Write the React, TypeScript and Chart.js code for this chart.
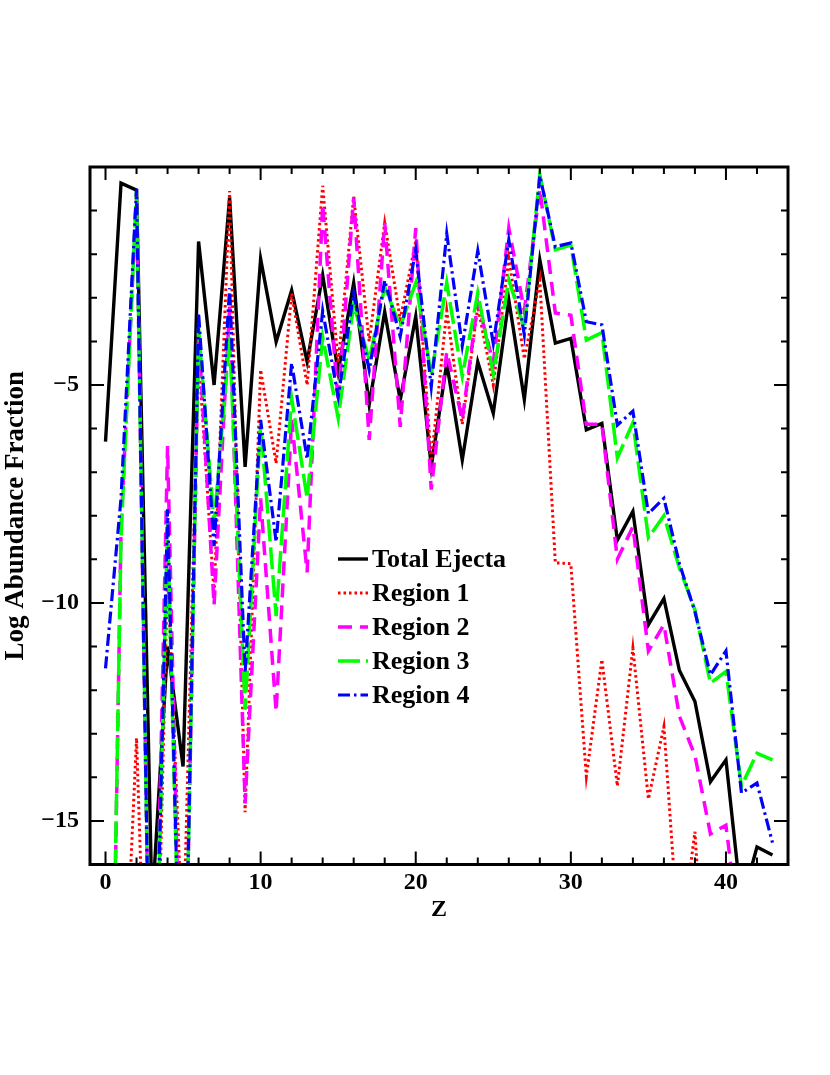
import React, { useEffect, useRef } from 'react';
import { Chart, registerables } from 'chart.js';

Chart.register(...registerables);

// ---------- data ----------
const Z = [0, 1, 2, 3, 4, 5, 6, 7, 8, 9, 10, 11, 12, 13, 14, 15, 16, 17, 18, 19, 20, 21, 22, 23, 24, 25, 26, 27, 28, 29, 30, 31, 32, 33, 34, 35, 36, 37, 38, 39, 40, 41, 42, 43];

const totalEjecta = [-6.3, -0.37, -0.53, -17, -11.0, -13.75, -1.71, -5.0, -0.7, -6.88, -2.11, -4.01, -2.83, -4.47, -2.48, -4.7, -2.66, -5.45, -3.32, -5.35, -3.43, -6.87, -4.5, -6.72, -4.47, -5.65, -3.05, -5.33, -2.13, -4.04, -3.93, -6.03, -5.88, -8.56, -7.9, -10.5, -9.9, -11.55, -12.26, -14.1, -13.6, -16.9, -15.6, -15.78];

const region1 = [-25, -21, -13.1, -24, -9.3, -18, -4.3, -9.8, -0.55, -14.8, -4.65, -6.8, -2.9, -5.0, -0.43, -4.5, -0.68, -4.0, -1.28, -3.5, -1.7, -6.75, -3.3, -5.9, -3.2, -5.0, -2.1, -4.4, -2.6, -9.08, -9.1, -13.98, -11.3, -14.2, -11.04, -14.5, -12.84, -18, -15.25, -21, -24, -26, -28, -30];

const region2 = [-30, -8.3, -0.6, -23, -6.4, -22, -3.8, -10.05, -3.2, -14.6, -7.6, -12.5, -5.8, -9.3, -0.85, -5.4, -0.7, -6.26, -1.28, -5.96, -1.4, -7.4, -4.24, -5.8, -3.1, -4.5, -1.4, -3.3, -0.5, -3.35, -3.4, -5.9, -5.9, -9.0, -8.25, -11.1, -10.5, -12.6, -13.5, -15.3, -15.1, -18, -19, -20];

const region3 = [-29, -8.5, -0.55, -23, -8.2, -22, -3.7, -8.2, -3.9, -12.45, -5.9, -10.3, -5.3, -7.6, -3.9, -5.76, -3.15, -4.43, -2.75, -3.66, -2.66, -4.77, -2.66, -4.8, -2.89, -4.75, -2.59, -3.7, -0.18, -1.9, -1.79, -3.97, -3.8, -6.67, -5.87, -8.5, -8.0, -9.2, -10.16, -11.84, -11.57, -14.2, -13.45, -13.6];

const region4 = [-11.5, -7.6, -0.5, -23, -7.85, -22, -3.35, -8.7, -2.78, -11.6, -5.8, -8.6, -4.5, -6.7, -3.3, -5.27, -2.9, -4.66, -2.6, -3.89, -1.9, -5.04, -1.53, -4.1, -1.92, -4.05, -1.67, -3.85, -0.2, -1.83, -1.74, -3.55, -3.62, -5.92, -5.6, -7.95, -7.6, -9.1, -10.2, -11.65, -11.1, -14.36, -14.13, -15.5];

const seriesLabels = ['Total Ejecta', 'Region 1', 'Region 2', 'Region 3', 'Region 4'];

const xTickValues = [0, 10, 20, 30, 40];
const xTickLabels = ['0', '10', '20', '30', '40'];
const xMinorTicks = [0, 2, 4, 6, 8, 10, 12, 14, 16, 18, 20, 22, 24, 26, 28, 30, 32, 34, 36, 38, 40, 42];
const yTickValues = [-15, -10, -5];
const yTickLabels = ['\u221215', '\u221210', '\u22125'];
const yMinorTicks = [-15, -14, -13, -12, -11, -10, -9, -8, -7, -6, -5, -4, -3, -2, -1];

const FONT = '"Liberation Serif", "Times New Roman", serif';

const framePlugin = {
  id: 'framePlugin',
  afterDraw(chart: any) {
    const { ctx, chartArea } = chart;
    const { left, right, top, bottom } = chartArea;
    const xs = chart.scales.x;
    const ys = chart.scales.y;
    ctx.save();
    ctx.strokeStyle = '#000';
    ctx.lineWidth = 2;
    ctx.lineCap = 'butt';
    ctx.beginPath();
    xMinorTicks.forEach((v) => {
      const px = xs.getPixelForValue(v);
      const len = xTickValues.includes(v) ? 13 : 7;
      ctx.moveTo(px, bottom);
      ctx.lineTo(px, bottom - len);
      ctx.moveTo(px, top);
      ctx.lineTo(px, top + len);
    });
    yMinorTicks.forEach((v) => {
      const py = ys.getPixelForValue(v);
      const len = yTickValues.includes(v) ? 14 : 7;
      ctx.moveTo(left, py);
      ctx.lineTo(left + len, py);
      ctx.moveTo(right, py);
      ctx.lineTo(right - len, py);
    });
    ctx.stroke();
    ctx.lineWidth = 3;
    ctx.strokeRect(left, top, right - left, bottom - top);

    // legend inside the plot
    const lx = left + 248;
    const ly = top + 392;
    const rowH = 34;
    ctx.font = 'bold 26px ' + FONT;
    ctx.textAlign = 'left';
    ctx.textBaseline = 'alphabetic';
    chart.data.datasets.forEach((ds: any, i: number) => {
      const yy = ly + i * rowH;
      ctx.save();
      ctx.strokeStyle = ds.borderColor;
      ctx.lineWidth = ds.borderWidth;
      ctx.setLineDash(ds.borderDash || []);
      ctx.beginPath();
      ctx.moveTo(lx, yy);
      ctx.lineTo(lx + 30, yy);
      ctx.stroke();
      ctx.restore();
      ctx.fillStyle = '#000';
      ctx.fillText(ds.label, lx + 34, yy + 8);
    });
    ctx.restore();
  },
};

function makePoints(vals: number[]) {
  return Z.map((z, i) => ({ x: z, y: vals[i] }));
}

export default function App() {
  const ref = useRef<HTMLCanvasElement | null>(null);
  useEffect(() => {
    if (!ref.current) return;
    const common = { pointRadius: 0, fill: false, tension: 0, clip: 0 as any };
    const chart = new Chart(ref.current, {
      type: 'line',
      data: {
        datasets: [
          { ...common, label: seriesLabels[0], data: makePoints(totalEjecta), borderColor: '#000000', borderWidth: 3.4, borderDash: [], order: 5 },
          { ...common, label: seriesLabels[1], data: makePoints(region1), borderColor: '#ff0000', borderWidth: 3, borderDash: [2.5, 3], order: 4 },
          { ...common, label: seriesLabels[2], data: makePoints(region2), borderColor: '#ff00ff', borderWidth: 3.5, borderDash: [14, 8], order: 3 },
          { ...common, label: seriesLabels[3], data: makePoints(region3), borderColor: '#00ff00', borderWidth: 3.5, borderDash: [22, 6], order: 2 },
          { ...common, label: seriesLabels[4], data: makePoints(region4), borderColor: '#0000ff', borderWidth: 3.2, borderDash: [12, 4, 2.5, 4], order: 1 },
        ],
      },
      options: {
        responsive: false,
        animation: false,
        devicePixelRatio: 1,
        layout: { padding: { left: 0, right: 42, top: 167, bottom: 0 } },
        plugins: {
          legend: { display: false },
          tooltip: { enabled: false },
        },
        scales: {
          x: {
            type: 'linear',
            min: -1,
            max: 44,
            grid: { display: false, drawTicks: false },
            border: { display: false },
            afterFit(scale: any) { scale.height = 210.5; },
            afterBuildTicks(scale: any) { scale.ticks = xTickValues.map((v) => ({ value: v })); },
            ticks: {
              padding: 4,
              color: '#000',
              font: { family: FONT, size: 24, weight: 'bold' },
              callback: (v: any) => { const i = xTickValues.indexOf(Number(v)); return i >= 0 ? xTickLabels[i] : ''; },
              maxRotation: 0,
              autoSkip: false,
            },
            title: {
              display: true,
              text: 'Z',
              color: '#000',
              font: { family: FONT, size: 24, weight: 'bold' },
              padding: { top: 0, bottom: 151 },
            },
          },
          y: {
            type: 'linear',
            min: -16,
            max: 0,
            grid: { display: false, drawTicks: false },
            border: { display: false },
            afterFit(scale: any) { scale.width = 90; },
            afterBuildTicks(scale: any) { scale.ticks = yTickValues.map((v) => ({ value: v })); },
            ticks: {
              padding: 11,
              color: '#000',
              font: { family: FONT, size: 24, weight: 'bold' },
              callback: (v: any) => { const i = yTickValues.indexOf(Number(v)); return i >= 0 ? yTickLabels[i] : ''; },
              autoSkip: false,
            },
            title: {
              display: true,
              text: 'Log Abundance Fraction',
              color: '#000',
              font: { family: FONT, size: 27, weight: 'bold' },
              padding: { top: 0, bottom: 0 },
            },
          },
        },
      },
      plugins: [framePlugin],
    });
    return () => chart.destroy();
  }, []);

  return (
    <div style={{ position: 'absolute', left: 0, top: 0, width: 830, height: 1075 }}>
      <canvas ref={ref} width={830} height={1075} style={{ display: 'block', width: 830, height: 1075 }} />
    </div>
  );
}
